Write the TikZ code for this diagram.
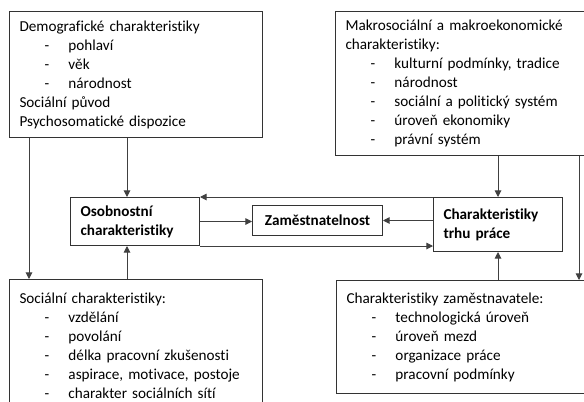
\documentclass[tikz,border=0pt]{standalone}
\usepackage{fontspec}
\setmainfont{Carlito}[Ligatures=NoCommon]
\usepackage{tikz}
\usetikzlibrary{arrows.meta, positioning}

\newcommand{\polozka}[1]{\hspace*{18.75pt}\makebox[18pt][l]{-}#1}

\begin{document}
\begin{tikzpicture}[
    x=0.75pt, y=-0.75pt,
    >={Triangle[length=5pt, width=5pt]},
    font=\fontsize{11.4pt}{14.25pt}\selectfont,
    box/.style={
        rectangle, draw=black!80, line width=0.75pt, fill=white,
        anchor=north west, inner xsep=7.5pt, inner ysep=0pt,
        text width=#1, align=left
    },
    core/.style={
        box=#1, font=\fontsize{11.4pt}{14.25pt}\selectfont\bfseries
    },
    arrow/.style={
        ->, line width=0.75pt, black!75
    }
]

\useasboundingbox (0,0) rectangle (584,401);
\clip (0,0) rectangle (584,401);

% ── Outer factors ──
\node[box=174.75pt, minimum height=94.5pt] (demo) at (9,11) {
    Demografické charakteristiky\\
    \polozka{pohlaví}\\
    \polozka{věk}\\
    \polozka{národnost}\\
    Sociální původ\\
    Psychosomatické dispozice
};

\node[box=173.25pt, minimum height=108pt] (makro) at (335,11) {
    Makrosociální a makroekonomické\\
    charakteristiky:\\
    \polozka{kulturní podmínky, tradice}\\
    \polozka{národnost}\\
    \polozka{sociální a politický systém}\\
    \polozka{úroveň ekonomiky}\\
    \polozka{právní systém}
};

\node[box=174.75pt, minimum height=99.75pt] (social) at (9,279) {
    Sociální charakteristiky:\\
    \polozka{vzdělání}\\
    \polozka{povolání}\\
    \polozka{délka pracovní zkušenosti}\\
    \polozka{aspirace, motivace, postoje}\\
    \polozka{charakter sociálních sítí}
};

\node[box=172.5pt, minimum height=84.75pt] (zamestnavatel) at (336,280) {
    Charakteristiky zaměstnavatele:\\
    \polozka{technologická úroveň}\\
    \polozka{úroveň mezd}\\
    \polozka{organizace práce}\\
    \polozka{pracovní podmínky}
};

% ── Core ──
\node[core=81.75pt, minimum height=36pt] (osob) at (70,197) {
    Osobnostní\\charakteristiky
};
\node[core=82.5pt, minimum height=22.5pt, align=center] (zam) at (252,205) {
    Zaměstnatelnost
};
\node[core=81.75pt, minimum height=40.5pt] (trh) at (433,197) {
    Charakteristiky\\trhu práce
};

% ── Arrows ──
\draw[arrow] ([xshift=15pt]demo.south west) -- ([xshift=15pt]social.north west);
\draw[arrow] ([xshift=42.75pt]osob.north west |- demo.south) -- ([xshift=42.75pt]osob.north west);
\draw[arrow] ([xshift=42.75pt]osob.south west |- social.north) -- ([xshift=42.75pt]osob.south west);

\draw[arrow] (osob.east) -- (osob.east -| zam.west);
\draw[arrow] (zam.east -| trh.west) -- (zam.east);
\draw[arrow] (trh.north west) -- (osob.north east);
\draw[arrow] (osob.south east) -- (osob.south east -| trh.west);

\draw[arrow] (makro.south -| trh.north) -- (trh.north);
\draw[arrow] (zamestnavatel.north -| trh.south) -- (trh.south);
\draw[arrow] ([xshift=-6pt]makro.south east) -- ([xshift=-6pt]makro.south east |- zamestnavatel.north);

\end{tikzpicture}
\end{document}
